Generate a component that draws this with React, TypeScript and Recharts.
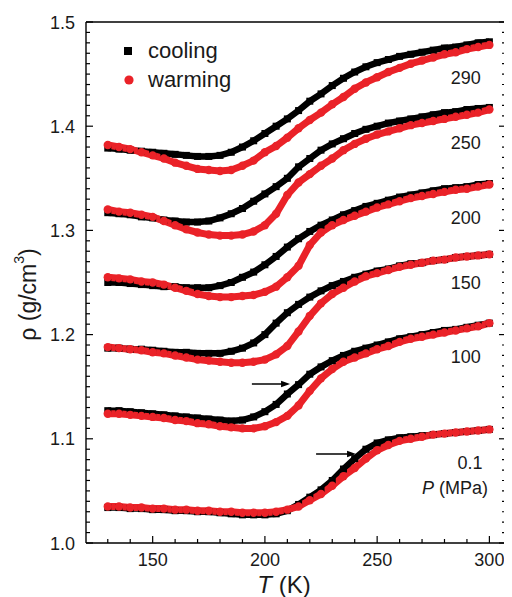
import React from 'react';
import { LineChart, Line, XAxis, YAxis, ReferenceDot, ReferenceLine, Legend, Label } from 'recharts';

const FONT = '"Liberation Sans", Arial, sans-serif';
const RED = '#ea2228';
const BLACK = '#000000';

// Temperature grid (K)
const temperatures = [130, 135, 140, 145, 150, 155, 160, 165, 170, 175, 180, 185, 190, 195, 200, 205, 210, 215, 220, 225, 230, 235, 240, 245, 250, 255, 260, 265, 270, 275, 280, 285, 290, 295, 300];

// Density (g/cm^3) for each pressure, cooling and warming runs
const cooling290 = [1.379, 1.378, 1.377, 1.376, 1.375, 1.374, 1.373, 1.372, 1.371, 1.371, 1.372, 1.375, 1.380, 1.386, 1.393, 1.400, 1.407, 1.415, 1.424, 1.431, 1.439, 1.446, 1.452, 1.457, 1.461, 1.464, 1.467, 1.469, 1.471, 1.473, 1.475, 1.476, 1.478, 1.480, 1.481];
const warming290 = [1.382, 1.380, 1.378, 1.375, 1.372, 1.369, 1.365, 1.362, 1.359, 1.358, 1.357, 1.358, 1.362, 1.367, 1.375, 1.381, 1.389, 1.398, 1.406, 1.413, 1.421, 1.428, 1.436, 1.442, 1.447, 1.452, 1.456, 1.460, 1.463, 1.466, 1.469, 1.471, 1.474, 1.476, 1.478];
const cooling250 = [1.317, 1.316, 1.315, 1.313, 1.312, 1.310, 1.309, 1.308, 1.308, 1.309, 1.312, 1.316, 1.321, 1.328, 1.335, 1.342, 1.350, 1.361, 1.369, 1.377, 1.383, 1.388, 1.393, 1.397, 1.400, 1.403, 1.405, 1.407, 1.409, 1.411, 1.413, 1.414, 1.416, 1.417, 1.418];
const warming250 = [1.320, 1.318, 1.317, 1.315, 1.313, 1.309, 1.305, 1.301, 1.298, 1.296, 1.295, 1.295, 1.296, 1.299, 1.305, 1.316, 1.334, 1.346, 1.354, 1.362, 1.369, 1.377, 1.383, 1.388, 1.392, 1.395, 1.398, 1.401, 1.403, 1.405, 1.407, 1.409, 1.411, 1.413, 1.416];
const cooling200 = [1.250, 1.250, 1.249, 1.248, 1.247, 1.246, 1.246, 1.245, 1.245, 1.245, 1.247, 1.250, 1.255, 1.260, 1.267, 1.275, 1.284, 1.292, 1.299, 1.305, 1.310, 1.315, 1.319, 1.323, 1.326, 1.329, 1.332, 1.334, 1.336, 1.338, 1.340, 1.341, 1.342, 1.344, 1.345];
const warming200 = [1.255, 1.254, 1.253, 1.251, 1.250, 1.248, 1.245, 1.242, 1.239, 1.237, 1.236, 1.236, 1.237, 1.238, 1.241, 1.246, 1.255, 1.266, 1.286, 1.298, 1.305, 1.310, 1.314, 1.318, 1.322, 1.325, 1.328, 1.331, 1.333, 1.335, 1.337, 1.339, 1.340, 1.342, 1.344];
const cooling150 = [1.187, 1.187, 1.186, 1.186, 1.185, 1.184, 1.183, 1.183, 1.182, 1.182, 1.182, 1.184, 1.187, 1.192, 1.200, 1.211, 1.221, 1.229, 1.236, 1.242, 1.247, 1.251, 1.255, 1.258, 1.261, 1.263, 1.266, 1.268, 1.269, 1.271, 1.272, 1.274, 1.275, 1.276, 1.277];
const warming150 = [1.188, 1.187, 1.186, 1.185, 1.183, 1.182, 1.180, 1.178, 1.176, 1.175, 1.174, 1.173, 1.173, 1.174, 1.176, 1.181, 1.189, 1.203, 1.218, 1.230, 1.239, 1.245, 1.251, 1.256, 1.259, 1.262, 1.265, 1.267, 1.269, 1.271, 1.272, 1.274, 1.275, 1.276, 1.277];
const cooling100 = [1.127, 1.127, 1.126, 1.125, 1.124, 1.123, 1.122, 1.121, 1.120, 1.119, 1.118, 1.117, 1.118, 1.121, 1.126, 1.133, 1.143, 1.152, 1.162, 1.169, 1.175, 1.180, 1.184, 1.187, 1.190, 1.193, 1.196, 1.198, 1.200, 1.202, 1.204, 1.205, 1.207, 1.209, 1.211];
const warming100 = [1.124, 1.124, 1.123, 1.122, 1.121, 1.120, 1.118, 1.117, 1.115, 1.114, 1.112, 1.111, 1.110, 1.110, 1.112, 1.116, 1.122, 1.132, 1.146, 1.158, 1.167, 1.174, 1.178, 1.182, 1.186, 1.189, 1.193, 1.196, 1.198, 1.200, 1.202, 1.204, 1.206, 1.208, 1.211];
const cooling01 = [1.034, 1.034, 1.033, 1.033, 1.032, 1.032, 1.031, 1.031, 1.030, 1.030, 1.029, 1.028, 1.027, 1.027, 1.027, 1.028, 1.031, 1.037, 1.044, 1.051, 1.060, 1.071, 1.081, 1.090, 1.096, 1.099, 1.101, 1.102, 1.103, 1.104, 1.105, 1.106, 1.107, 1.108, 1.109];
const warming01 = [1.035, 1.035, 1.034, 1.034, 1.033, 1.033, 1.032, 1.032, 1.031, 1.031, 1.030, 1.030, 1.029, 1.029, 1.029, 1.030, 1.032, 1.035, 1.041, 1.047, 1.055, 1.064, 1.072, 1.081, 1.089, 1.094, 1.098, 1.100, 1.102, 1.104, 1.105, 1.106, 1.107, 1.108, 1.109];

// Pressure labels and where they sit
const pressureLabels = ['290', '250', '200', '150', '100', '0.1'];
const pressureLabelT = [296.2, 296.2, 296.2, 296.2, 296.2, 296.9];
const pressureLabelRho = [1.4463, 1.3839, 1.3119, 1.2495, 1.1785, 1.0768];
const unitLabel = 'P';
const unitSuffix = ' (MPa)';
const unitLabelT = 299.4;
const unitLabelRho = 1.0528;

// Arrows marking transitions
const arrowStartT = [194.2, 222.8];
const arrowEndT = [211.2, 240.6];
const arrowRho = [1.1526, 1.0854];

// Axes
const xDomain = [120.3, 307.4];
const yDomain = [1.0, 1.5];
const xMajorTicks = [150, 200, 250, 300];
const xTicks = [130, 140, 150, 160, 170, 180, 190, 200, 210, 220, 230, 240, 250, 260, 270, 280, 290, 300];
const yTicks = Array.from({ length: 51 }, (_, i) => Number((1 + i * 0.01).toFixed(2)));

const legendLabels = ['cooling', 'warming'];

const coolingSeries = [
  { key: 'c290', values: cooling290 },
  { key: 'c250', values: cooling250 },
  { key: 'c200', values: cooling200 },
  { key: 'c150', values: cooling150 },
  { key: 'c100', values: cooling100 },
  { key: 'c01', values: cooling01 },
];
const warmingSeries = [
  { key: 'w290', values: warming290 },
  { key: 'w250', values: warming250 },
  { key: 'w200', values: warming200 },
  { key: 'w150', values: warming150 },
  { key: 'w100', values: warming100 },
  { key: 'w01', values: warming01 },
];

const rows = temperatures.map((T, i) => {
  const r: Record<string, number> = { T };
  coolingSeries.forEach((s) => (r[s.key] = s.values[i]));
  warmingSeries.forEach((s) => (r[s.key] = s.values[i]));
  return r;
});

const isMajorY = (v: number) => Math.abs(v * 10 - Math.round(v * 10)) < 1e-6;

const XTick = (props: any) => {
  const { x, y, payload, side } = props;
  const major = xMajorTicks.includes(payload.value);
  const len = major ? 7 : 4;
  const dir = side === 'bottom' ? -1 : 1;
  return (
    <g>
      <line x1={x} x2={x} y1={y} y2={y + dir * len} stroke="#000" strokeWidth={1.2} />
      {major && side === 'bottom' && (
        <text x={x} y={y + 23} textAnchor="middle" fontSize={18} fontFamily={FONT} fill="#1a1a1a">
          {payload.value}
        </text>
      )}
    </g>
  );
};

const YTick = (props: any) => {
  const { x, y, payload, side } = props;
  const major = isMajorY(payload.value);
  const len = major ? 7 : 4;
  const dir = side === 'left' ? 1 : -1;
  return (
    <g>
      <line x1={x} x2={x + dir * len} y1={y} y2={y} stroke="#000" strokeWidth={1.2} />
      {major && side === 'left' && (
        <text x={x - 11} y={y + 6.5} textAnchor="end" fontSize={18} fontFamily={FONT} fill="#1a1a1a">
          {payload.value.toFixed(1)}
        </text>
      )}
    </g>
  );
};

const SquareDot = (p: any) => {
  if (p.cx == null || p.cy == null) return <g key={p.index} />;
  return <rect key={p.index} x={p.cx - 3.5} y={p.cy - 3.5} width={7} height={7} fill={BLACK} />;
};
const CircleDot = (p: any) => {
  if (p.cx == null || p.cy == null) return <g key={p.index} />;
  return <circle key={p.index} cx={p.cx} cy={p.cy} r={4.2} fill={RED} />;
};

const LegendContent = () => (
  <div style={{ fontFamily: FONT, fontSize: 22, color: '#1a1a1a' }}>
    {legendLabels.map((lab, i) => (
      <div key={lab} style={{ display: 'flex', alignItems: 'center', height: 29 }}>
        <svg width={16} height={16} style={{ marginRight: 12 }}>
          {i === 0 ? <rect x={4} y={4} width={8} height={8} fill={BLACK} /> : <circle cx={9} cy={8} r={4.6} fill={RED} />}
        </svg>
        <span>{lab}</span>
      </div>
    ))}
  </div>
);

const YTitle = (props: any) => {
  const vb = props.viewBox;
  const cx = vb.x + 20;
  const cy = vb.y + vb.height / 2 + 12;
  return (
    <text x={cx} y={cy} transform={`rotate(-90, ${cx}, ${cy})`} textAnchor="middle" dominantBaseline="central" fontSize={23} fontFamily={FONT} fill="#1a1a1a">
      <tspan>ρ (g/cm</tspan>
      <tspan fontSize={14} dy={-9}>3</tspan>
      <tspan dy={9}>)</tspan>
    </text>
  );
};

const XTitle = (props: any) => {
  const vb = props.viewBox;
  const cx = vb.x + vb.width / 2 - 12;
  const cy = vb.y + 50;
  return (
    <text x={cx} y={cy} textAnchor="middle" fontSize={24} fontFamily={FONT} fill="#1a1a1a">
      <tspan fontStyle="italic">T</tspan>
      <tspan> (K)</tspan>
    </text>
  );
};

export default function App() {
  return (
    <LineChart width={504} height={589} data={rows} margin={{ top: 13, right: 5, bottom: 0, left: 0 }}>
      <XAxis
        dataKey="T"
        type="number"
        domain={xDomain}
        allowDataOverflow
        ticks={xTicks}
        interval={0}
        tickSize={0}
        tickMargin={0}
        tickLine={false}
        height={54}
        axisLine={{ stroke: '#000', strokeWidth: 1.4 }}
        tick={(p: any) => <XTick {...p} side="bottom" />}
        label={XTitle}
      />
      <XAxis
        xAxisId="top"
        orientation="top"
        type="number"
        domain={xDomain}
        allowDataOverflow
        ticks={xTicks}
        interval={0}
        tickSize={0}
        tickMargin={0}
        tickLine={false}
        height={1}
        axisLine={{ stroke: '#000', strokeWidth: 1.4 }}
        tick={(p: any) => <XTick {...p} side="top" />}
      />
      <YAxis
        type="number"
        domain={yDomain}
        allowDataOverflow
        ticks={yTicks}
        interval={0}
        tickSize={0}
        tickMargin={0}
        tickLine={false}
        width={78}
        axisLine={{ stroke: '#000', strokeWidth: 1.4 }}
        tick={(p: any) => <YTick {...p} side="left" />}
        label={YTitle}
      />
      <YAxis
        yAxisId="right"
        orientation="right"
        type="number"
        domain={yDomain}
        allowDataOverflow
        ticks={yTicks}
        interval={0}
        tickSize={0}
        tickMargin={0}
        tickLine={false}
        width={1}
        axisLine={{ stroke: '#000', strokeWidth: 1.4 }}
        tick={(p: any) => <YTick {...p} side="right" />}
      />
      <Legend
        layout="vertical"
        align="center"
        verticalAlign="middle"
        content={LegendContent}
        wrapperStyle={{ left: 112, top: 28, width: 'auto', height: 'auto' }}
      />
      {coolingSeries.map((s) => (
        <Line
          key={s.key}
          dataKey={s.key}
          name="cooling"
          type="linear"
          stroke={BLACK}
          strokeWidth={6.5}
          dot={SquareDot}
          activeDot={false}
          isAnimationActive={false}
        />
      ))}
      {warmingSeries.map((s) => (
        <Line
          key={s.key}
          dataKey={s.key}
          name="warming"
          type="linear"
          stroke={RED}
          strokeWidth={7}
          dot={CircleDot}
          activeDot={false}
          isAnimationActive={false}
        />
      ))}
      {arrowStartT.map((t0, i) => (
        <ReferenceLine
          key={`al${i}`}
          segment={[{ x: t0, y: arrowRho[i] }, { x: arrowEndT[i] - 2, y: arrowRho[i] }]}
          stroke="#000"
          strokeWidth={1.5}
        />
      ))}
      {arrowEndT.map((t1, i) => (
        <ReferenceDot
          key={`ah${i}`}
          x={t1}
          y={arrowRho[i]}
          r={1}
          shape={(p: any) => (
            <polygon points={`${p.cx},${p.cy} ${p.cx - 9},${p.cy - 3.2} ${p.cx - 9},${p.cy + 3.2}`} fill="#000" />
          )}
        />
      ))}
      {pressureLabels.map((lab, i) => (
        <ReferenceDot
          key={`pl${i}`}
          x={pressureLabelT[i]}
          y={pressureLabelRho[i]}
          r={1}
          shape={(p: any) => (
            <text x={p.cx} y={p.cy} textAnchor="end" dominantBaseline="central" fontSize={18} fontFamily={FONT} fill="#1a1a1a">
              {lab}
            </text>
          )}
        />
      ))}
      <ReferenceDot
        x={unitLabelT}
        y={unitLabelRho}
        r={1}
        shape={(p: any) => (
          <text x={p.cx} y={p.cy} textAnchor="end" dominantBaseline="central" fontSize={18} fontFamily={FONT} fill="#1a1a1a">
            <tspan fontStyle="italic">{unitLabel}</tspan>
            <tspan>{unitSuffix}</tspan>
          </text>
        )}
      />
    </LineChart>
  );
}
